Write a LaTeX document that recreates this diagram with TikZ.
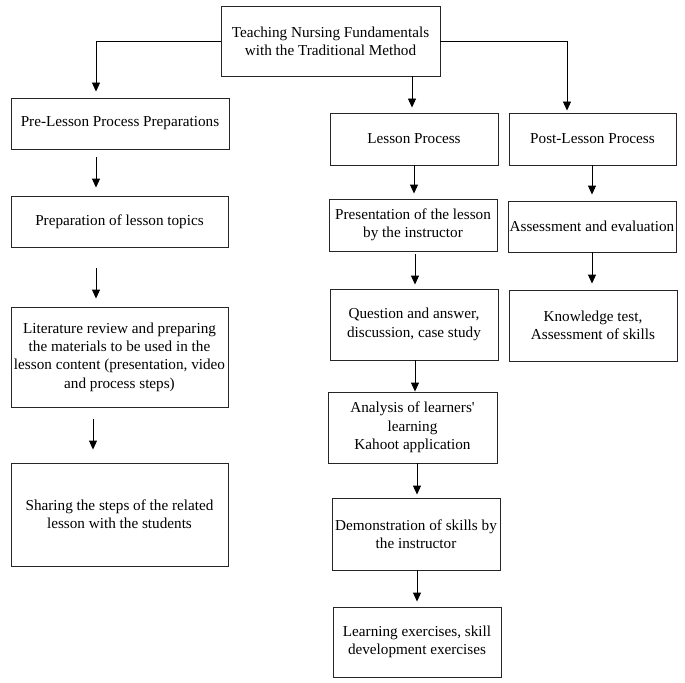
\documentclass[tikz,border=0pt]{standalone}
\usepackage{fontspec}
\setmainfont{Liberation Serif}
\usetikzlibrary{arrows.meta}
\begin{document}
\begin{tikzpicture}[x=1bp,y=-1bp,
  box/.style={draw=black!85, line width=0.9bp, inner sep=0pt, align=center,
    font=\fontsize{15.2bp}{18.3bp}\selectfont},
  arr/.style={draw=black, line width=0.9bp, -{Triangle[length=9bp,width=8bp]}}]
\useasboundingbox (0,0) rectangle (685,683);
\fill[white] (0,0) rectangle (685,683);
% boxes
\node[box, minimum width=219bp, minimum height=70bp] (top) at (330.5,41) {Teaching Nursing Fundamentals\\with the Traditional Method};
\node[box, minimum width=218bp, minimum height=51bp] (pre) at (120,123.5) {Pre-Lesson Process Preparations};
\node[box, minimum width=168bp, minimum height=52bp] (lesson) at (414,139) {Lesson Process};
\node[box, minimum width=167bp, minimum height=52bp] (post) at (592.5,139) {Post-Lesson Process};
\node[box, minimum width=217bp, minimum height=51bp] (prep) at (119.5,221.5) {Preparation of lesson topics};
\node[box, minimum width=217bp, minimum height=100bp] (lit) at (119.5,357) {Literature review and preparing\\the materials to be used in the\\lesson content (presentation, video\\and process steps)};
\node[box, minimum width=217bp, minimum height=103bp] (share) at (119.5,514.5) {Sharing the steps of the related\\lesson with the students};
\node[box, minimum width=168bp, minimum height=52bp] (pres) at (413,225) {Presentation of the lesson\\by the instructor};
\node[box, minimum width=168bp, minimum height=71bp] (quest) at (414,324.5) {Question and answer,\\discussion, case study};
\node[box, minimum width=169bp, minimum height=71bp] (anal) at (412.5,427.5) {Analysis of learners\textquotesingle\\learning\\Kahoot application};
\node[box, minimum width=168bp, minimum height=72bp] (demo) at (416,534) {Demonstration of skills by\\the instructor};
\node[box, minimum width=168bp, minimum height=70bp] (learn) at (417,642) {Learning exercises, skill\\development exercises};
\node[box, minimum width=168bp, minimum height=51bp] (assess) at (592,226.5) {Assessment and evaluation};
\node[box, minimum width=168bp, minimum height=71bp] (know) at (593,325.5) {Knowledge test,\\Assessment of skills};
% connectors
\draw[arr, shorten >=6bp] (top.west) -| ([xshift=-24bp]pre.north);
\draw[arr, shorten >=5bp] ([xshift=81.5bp]top.south) coordinate (t1) -- (t1 |- lesson.north);
\draw[arr, shorten >=2bp] (top.east) -| ([xshift=-25.5bp]post.north);
\draw[arr, shorten <=8bp, shorten >=8bp] ([xshift=-24bp]pre.south) coordinate (a1) -- (a1 |- prep.north);
\draw[arr, shorten <=21bp, shorten >=8bp] ([xshift=-23.5bp]prep.south) coordinate (a2) -- (a2 |- lit.north);
\draw[arr, shorten <=12bp, shorten >=13bp] ([xshift=-26.5bp]lit.south) coordinate (a3) -- (a3 |- share.north);
\draw[arr, shorten >=5bp] (lesson.south) -- (pres.north -| lesson.south);
\draw[arr, shorten <=3bp, shorten >=4bp] ([xshift=2bp]pres.south) coordinate (b1) -- (b1 |- quest.north);
\draw[arr] ([xshift=1bp]quest.south) coordinate (b2) -- (b2 |- anal.north);
\draw[arr, shorten >=3bp] ([xshift=4.5bp]anal.south) coordinate (b3) -- (b3 |- demo.north);
\draw[arr, shorten >=5bp] ([xshift=1bp]demo.south) coordinate (b4) -- (b4 |- learn.north);
\draw[arr, shorten >=6bp] ([xshift=-0.5bp]post.south) coordinate (c1) -- (c1 |- assess.north);
\draw[arr, shorten >=6bp] (assess.south) -- (assess.south |- know.north);
\end{tikzpicture}
\end{document}
